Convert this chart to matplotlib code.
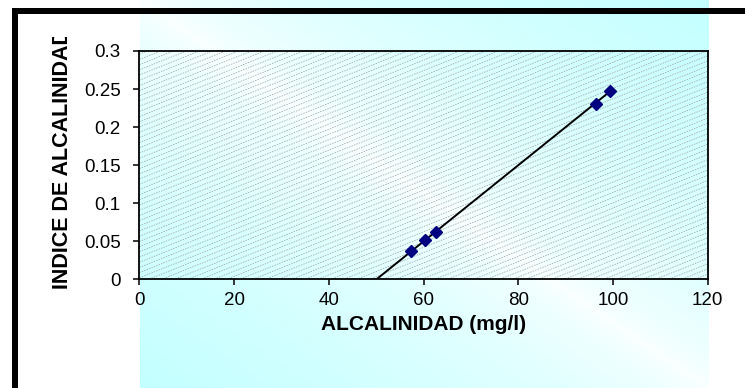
import numpy as np
import matplotlib
matplotlib.use("Agg")
import matplotlib.pyplot as plt
from matplotlib.colors import LinearSegmentedColormap
from matplotlib.collections import LineCollection
from matplotlib.patches import Rectangle
from matplotlib.transforms import Bbox, TransformedBbox

# alcalinidad (mg/l) vs indice de alcalinidad
alcalinidad = [57.4, 60.3, 62.6, 96.4, 99.4]
indice = [0.0368, 0.0517, 0.0622, 0.231, 0.248]

x_ticks = [0, 20, 40, 60, 80, 100, 120]
y_ticks = [0, 0.05, 0.1, 0.15, 0.2, 0.25, 0.3]
y_tick_labels = ["0", "0.05", "0.1", "0.15", "0.2", "0.25", "0.3"]

W, H = 745, 388
plt.rcParams["font.family"] = ["Liberation Sans", "DejaVu Sans"]

fig = plt.figure(figsize=(W / 100, H / 100), dpi=100)
fig.patch.set_facecolor("white")

# diagonal white/cyan gradient behind the plot
gax = fig.add_axes([140 / W, 0, 569 / W, 1], zorder=0)
u = np.linspace(0, 1, 400)
v = np.linspace(0, 1, 300)
grad = np.abs(u[None, :] - v[:, None]) ** 0.6
cmap = LinearSegmentedColormap.from_list("cyan", ["#fbffff", "#c4ffff"])
gax.imshow(grad, cmap=cmap, extent=[0, 1, 0, 1], aspect="auto", origin="upper")
gax.axis("off")

ax = fig.add_axes([139.3 / W, 1 - 279.3 / H, 568.4 / W, 228.3 / H], zorder=1)
ax.set_facecolor("none")

# shallow hatch lines over the plot area
ax_w, ax_h = 568.4, 228.3
slope = 0.4 * ax_w / ax_h
step = 5.2 / ax_h
segs = []
for y0 in np.arange(-slope, 1 + step, step):
    segs.append([(0, y0), (1, y0 + slope)])
hatch = LineCollection(segs, colors="#9ea8a8", linewidths=0.55,
                       linestyles=(0, (2.0, 1.4)), transform=ax.transAxes,
                       zorder=1)
ax.add_collection(hatch)

# linear trend line from the x-intercept up to the last sample
a, b = np.polyfit(alcalinidad, indice, 1)
x_line = np.array([-b / a, max(alcalinidad)])
ax.plot(x_line, a * x_line + b, color="black", lw=1.4, zorder=3)
ax.plot(alcalinidad, indice, linestyle="none", marker="D", markersize=6.3,
        color="#000080", markeredgecolor="#000080", zorder=4)

ax.set_xlim(0, 120)
ax.set_ylim(0, 0.3)
ax.set_xticks(x_ticks)
ax.set_yticks(y_ticks)
ax.set_yticklabels(y_tick_labels)
ax.tick_params(axis="both", direction="out", length=4.5, width=1.1,
               labelsize=13.5, colors="black")
ax.tick_params(axis="y", pad=9)
ax.tick_params(axis="x", pad=5)
for s in ax.spines.values():
    s.set_linewidth(1.3)
    s.set_color("black")

ax.set_xlabel("ALCALINIDAD (mg/l)", fontsize=15, fontweight="bold", labelpad=4)

# y label is cut off at the top by the chart frame
ylab = fig.text(62 / W, 1 - 289 / H, "INDICE DE ALCALINIDAD", rotation=90,
                ha="center", va="bottom", fontsize=15.5, fontweight="bold")
ylab.set_clip_box(TransformedBbox(Bbox.from_extents(0, 0, 1, 1 - 37 / H),
                                  fig.transFigure))
ylab.set_clip_on(True)

# thick black frame on the top and left
fig.add_artist(Rectangle((12 / W, 0), 6 / W, 1 - 8 / H, transform=fig.transFigure,
                         facecolor="black", edgecolor="none", zorder=5))
fig.add_artist(Rectangle((12 / W, 1 - 14 / H), 1 - 12 / W, 6 / H,
                         transform=fig.transFigure,
                         facecolor="black", edgecolor="none", zorder=5))

fig.savefig("out.png", dpi=100)
